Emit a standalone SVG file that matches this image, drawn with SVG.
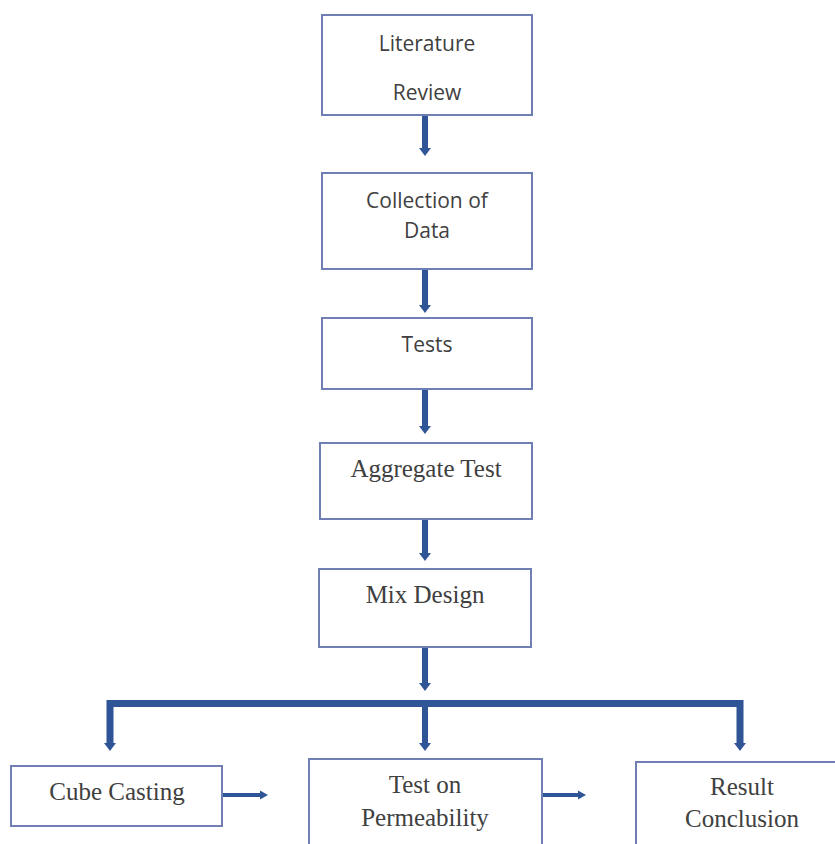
<svg xmlns="http://www.w3.org/2000/svg" width="835" height="844" viewBox="0 0 835 844">
<defs>
<style>
.box{fill:#fff;stroke:#6f7fb3;stroke-width:2}
.sans{font-family:"Open Sans","Liberation Sans",sans-serif;font-size:21px;fill:#404040;text-anchor:middle}
.serif{font-family:"Liberation Serif",serif;font-size:25px;fill:#404040;text-anchor:middle}
.conn{stroke:#2f5597;stroke-width:6;fill:none}
.h{stroke-width:4}
</style>
<marker id="ah" markerUnits="userSpaceOnUse" markerWidth="10" markerHeight="10" refX="0" refY="5" orient="auto" viewBox="0 0 10 10">
<path d="M0,0.5 L8,5 L0,9.5 Z" fill="#2f5597"/>
</marker>
<marker id="ahd" markerUnits="userSpaceOnUse" markerWidth="10" markerHeight="12" refX="0" refY="6" orient="auto" viewBox="0 0 10 12">
<path d="M0,0 L8,6 L0,12 Z" fill="#2f5597"/>
</marker>
</defs>
<rect width="835" height="844" fill="#fff"/>
<g id="connectors">
<line class="conn" x1="425" y1="115" x2="425" y2="148" marker-end="url(#ahd)"/>
<line class="conn" x1="425" y1="269" x2="425" y2="305" marker-end="url(#ahd)"/>
<line class="conn" x1="425" y1="389" x2="425" y2="426" marker-end="url(#ahd)"/>
<line class="conn" x1="425" y1="519" x2="425" y2="553" marker-end="url(#ahd)"/>
<line class="conn" x1="425" y1="647" x2="425" y2="683" marker-end="url(#ahd)"/>
<path class="conn" d="M110,744 V703.5 H740 V744" style="stroke-width:7"/>
<line class="conn" x1="110" y1="703" x2="110" y2="743" marker-end="url(#ahd)"/>
<line class="conn" x1="425" y1="703" x2="425" y2="743" marker-end="url(#ahd)"/>
<line class="conn" x1="740" y1="703" x2="740" y2="743" marker-end="url(#ahd)"/>
<line class="conn h" x1="222" y1="795" x2="260" y2="795" marker-end="url(#ah)"/>
<line class="conn h" x1="542" y1="795" x2="578" y2="795" marker-end="url(#ah)"/>
</g>
<g id="literature-review">
<rect class="box" x="322" y="15" width="210" height="100"/>
<text class="sans" x="427" y="51">Literature</text>
<text class="sans" x="427" y="100">Review</text>
</g>
<g id="collection-of-data">
<rect class="box" x="322" y="173" width="210" height="96"/>
<text class="sans" x="427" y="208">Collection of</text>
<text class="sans" x="427" y="238">Data</text>
</g>
<g id="tests">
<rect class="box" x="322" y="318" width="210" height="71"/>
<text class="sans" x="427" y="352">Tests</text>
</g>
<g id="aggregate-test">
<rect class="box" x="320" y="443" width="212" height="76"/>
<text class="serif" x="426" y="477">Aggregate Test</text>
</g>
<g id="mix-design">
<rect class="box" x="319" y="569" width="212" height="78"/>
<text class="serif" x="425" y="603">Mix Design</text>
</g>
<g id="cube-casting">
<rect class="box" x="11" y="766" width="211" height="60"/>
<text class="serif" x="117" y="800">Cube Casting</text>
</g>
<g id="test-on-permeability">
<rect class="box" x="309" y="759" width="233" height="95"/>
<text class="serif" x="425" y="793">Test on</text>
<text class="serif" x="425" y="826">Permeability</text>
</g>
<g id="result-conclusion">
<rect class="box" x="636" y="762" width="210" height="95"/>
<text class="serif" x="742" y="795">Result</text>
<text class="serif" x="742" y="827">Conclusion</text>
</g>
</svg>
